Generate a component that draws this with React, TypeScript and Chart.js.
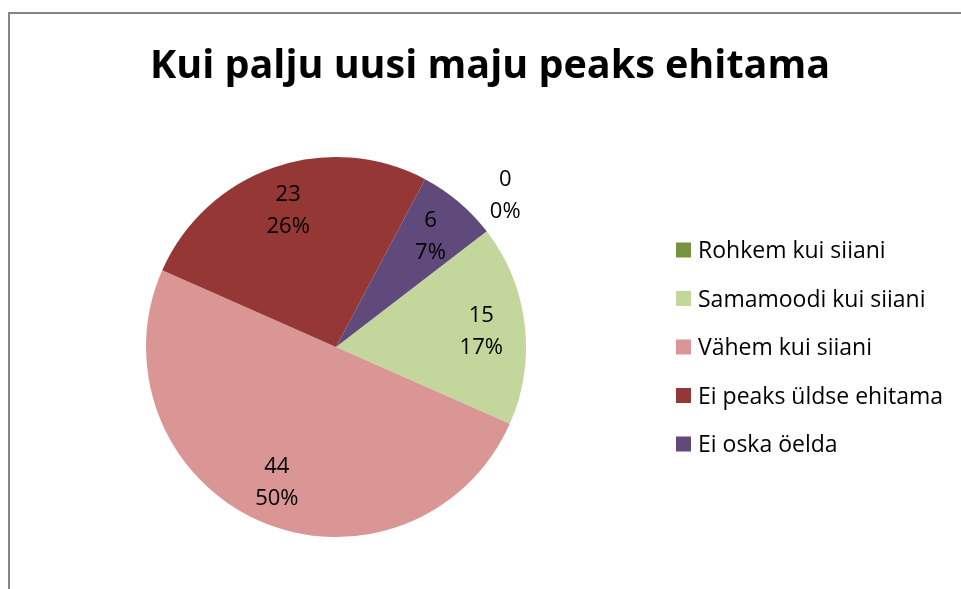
import React, { useEffect, useRef } from "react";
import { Chart, registerables } from "chart.js";

Chart.register(...registerables);

const chartTitle = "Kui palju uusi maju peaks ehitama";
const categories = [
  "Rohkem kui siiani",
  "Samamoodi kui siiani",
  "Vähem kui siiani",
  "Ei peaks üldse ehitama",
  "Ei oska öelda",
];
const counts = [0, 15, 44, 23, 6];
const sliceColors = ["#77933C", "#C3D69B", "#D99694", "#953735", "#604A7B"];

const FONT = "'Open Sans', Lato, sans-serif";

const decorPlugin = {
  id: "decor",
  beforeDraw(chart: any) {
    const ctx = chart.ctx;
    ctx.save();
    ctx.fillStyle = "#ffffff";
    ctx.fillRect(0, 0, chart.width, chart.height);
    ctx.fillStyle = "#868686";
    ctx.fillRect(8, 12, chart.width - 8, 2);
    ctx.fillRect(8, 12, 2, chart.height - 12);
    ctx.restore();
  },
  afterDraw(chart: any) {
    const ctx = chart.ctx;
    ctx.save();
    // title
    ctx.fillStyle = "#000000";
    ctx.font = `bold 39.5px ${FONT}`;
    ctx.textAlign = "center";
    ctx.textBaseline = "alphabetic";
    ctx.fillText(chartTitle, 490, 78);

    // data labels
    const meta = chart.getDatasetMeta(0);
    const data = chart.data.datasets[0].data as number[];
    const total = data.reduce((a, b) => a + b, 0);
    ctx.font = `22px ${FONT}`;
    meta.data.forEach((arc: any, i: number) => {
      const p = arc.getProps(["x", "y", "startAngle", "endAngle", "outerRadius"], true);
      const mid = (p.startAngle + p.endAngle) / 2;
      const outside = data[i] === 0;
      const ang = outside ? mid - 0.08 : mid;
      const r = outside ? p.outerRadius * 1.2 : p.outerRadius * 0.77;
      const cx = p.x + Math.cos(ang) * r;
      const cy = p.y + Math.sin(ang) * r;
      const pct = Math.round((data[i] / total) * 100) + "%";
      ctx.fillStyle = "#000000";
      ctx.fillText(String(data[i]), cx, cy - 8);
      ctx.fillText(pct, cx, cy + 24);
    });

    // legend
    ctx.textAlign = "left";
    ctx.font = `23px ${FONT}`;
    chart.data.labels.forEach((lab: string, i: number) => {
      const yc = 250 + i * 48.5;
      ctx.fillStyle = sliceColors[i];
      ctx.fillRect(676, yc - 7.5, 15, 15);
      ctx.fillStyle = "#000000";
      ctx.fillText(lab, 698, yc + 8);
    });
    ctx.restore();
  },
};

export default function App() {
  const canvasRef = useRef<HTMLCanvasElement | null>(null);

  useEffect(() => {
    if (!canvasRef.current) return;
    const chart = new Chart(canvasRef.current, {
      type: "pie",
      data: {
        labels: categories,
        datasets: [
          {
            data: counts,
            backgroundColor: sliceColors,
            borderWidth: 0,
          },
        ],
      },
      options: {
        responsive: false,
        animation: false,
        events: [],
        rotation: 52.5,
        layout: { padding: { left: 146, top: 157, right: 435, bottom: 52 } },
        plugins: {
          legend: { display: false },
          title: { display: false },
          tooltip: { enabled: false },
        },
      },
      plugins: [decorPlugin],
    });
    return () => chart.destroy();
  }, []);

  return (
    <div style={{ position: "fixed", left: 0, top: 0, width: 961, height: 589, overflow: "hidden" }}>
      <canvas ref={canvasRef} width={961} height={589} style={{ width: 961, height: 589, display: "block" }} />
    </div>
  );
}
